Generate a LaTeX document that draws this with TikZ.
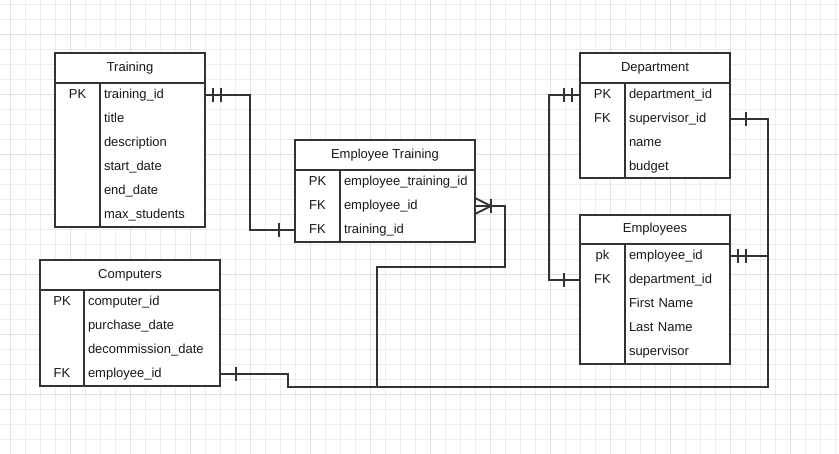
\documentclass[tikz,border=0pt]{standalone}
\usepackage{fontspec}
\setmainfont{Liberation Sans}
\usepackage{tikz}

\begin{document}
\begin{tikzpicture}[x=1pt, y=-1pt,
  every node/.style={font=\fontsize{13}{15}\selectfont, text=black!90, text height=10pt, text depth=3pt},
  tbl/.style={draw=black!80, fill=white, line width=2pt, inner sep=0pt, outer sep=0pt},
  head/.style={tbl, minimum height=30pt},
  key/.style={minimum height=24pt, inner sep=0pt, outer sep=0pt},
  field/.style={minimum height=24pt, inner sep=0pt, inner xsep=4pt, outer sep=0pt, text width=#1, align=left},
  conn/.style={draw=black!80, line width=2pt}]
  \useasboundingbox (0,0) rectangle (839,454);
  \fill[white] (0,0) rectangle (839,454);
  % grid
  \foreach \gx in {0,...,55} \draw[gray!14, line width=1pt] (10.5+15*\gx,0) -- (10.5+15*\gx,454);
  \foreach \gy in {0,...,29} \draw[gray!14, line width=1pt] (0,4.5+15*\gy) -- (839,4.5+15*\gy);
  \foreach \gx in {0,...,13} \draw[gray!24, line width=1pt] (10.5+60*\gx,0) -- (10.5+60*\gx,454);
  \foreach \gy in {0,...,6} \draw[gray!24, line width=1pt] (0,34.5+60*\gy) -- (839,34.5+60*\gy);

  % Training
  \node (train) [head, minimum width=150pt] at (130,68) {Training};
  \node (train-body) [tbl, anchor=north west, minimum width=150pt, minimum height=144pt] at (train.south west) {};
  \node (train-keys) [tbl, anchor=north west, minimum width=45pt, minimum height=144pt] at (train.south west) {};
  \node (train-pk) [key, minimum width=45pt] at (77.5,95) {PK};
  \node (train-id) [field=97pt, anchor=west] at (100,95) {training\_id};
  \node (train-title) [field=97pt, anchor=west] at (100,119) {title};
  \node (train-desc) [field=97pt, anchor=west] at (100,143) {description};
  \node (train-start) [field=97pt, anchor=west] at (100,167) {start\_date};
  \node (train-end) [field=97pt, anchor=west] at (100,191) {end\_date};
  \node (train-max) [field=97pt, anchor=west] at (100,215) {max\_students};

  % Employee Training
  \node (et) [head, minimum width=180pt] at (385,155) {Employee Training};
  \node (et-body) [tbl, anchor=north west, minimum width=180pt, minimum height=72pt] at (et.south west) {};
  \node (et-keys) [tbl, anchor=north west, minimum width=45pt, minimum height=72pt] at (et.south west) {};
  \node (et-pk) [key, minimum width=45pt] at (317.5,182) {PK};
  \node (et-ek) [key, minimum width=45pt] at (317.5,206) {FK};
  \node (et-tk) [key, minimum width=45pt] at (317.5,230) {FK};
  \node (et-id) [field=127pt, anchor=west] at (340,182) {employee\_training\_id};
  \node (et-eid) [field=127pt, anchor=west] at (340,206) {employee\_id};
  \node (et-tid) [field=127pt, anchor=west] at (340,230) {training\_id};

  % Department
  \node (dept) [head, minimum width=150pt] at (655,68) {Department};
  \node (dept-body) [tbl, anchor=north west, minimum width=150pt, minimum height=95pt] at (dept.south west) {};
  \node (dept-keys) [tbl, anchor=north west, minimum width=45pt, minimum height=95pt] at (dept.south west) {};
  \node (dept-pk) [key, minimum width=45pt] at (602.5,95) {PK};
  \node (dept-fk) [key, minimum width=45pt] at (602.5,119) {FK};
  \node (dept-id) [field=97pt, anchor=west] at (625,95) {department\_id};
  \node (dept-sup) [field=97pt, anchor=west] at (625,119) {supervisor\_id};
  \node (dept-name) [field=97pt, anchor=west] at (625,143) {name};
  \node (dept-budget) [field=97pt, anchor=west] at (625,167) {budget};

  % Employees
  \node (emp) [head, minimum width=150pt, minimum height=29pt] at (655,229.5) {Employees};
  \node (emp-body) [tbl, anchor=north west, minimum width=150pt, minimum height=120pt] at (emp.south west) {};
  \node (emp-keys) [tbl, anchor=north west, minimum width=45pt, minimum height=120pt] at (emp.south west) {};
  \node (emp-pk) [key, minimum width=45pt] at (602.5,256) {pk};
  \node (emp-fk) [key, minimum width=45pt] at (602.5,280) {FK};
  \node (emp-id) [field=97pt, anchor=west] at (625,256) {employee\_id};
  \node (emp-dept) [field=97pt, anchor=west] at (625,280) {department\_id};
  \node (emp-first) [field=97pt, anchor=west] at (625,304) {First Name};
  \node (emp-last) [field=97pt, anchor=west] at (625,328) {Last Name};
  \node (emp-sup) [field=97pt, anchor=west] at (625,352) {supervisor};

  % Computers
  \node (comp) [head, minimum width=180pt] at (130,275) {Computers};
  \node (comp-body) [tbl, anchor=north west, minimum width=180pt, minimum height=96pt] at (comp.south west) {};
  \node (comp-keys) [tbl, anchor=north west, minimum width=44pt, minimum height=96pt] at (comp.south west) {};
  \node (comp-pk) [key, minimum width=44pt] at (62,302) {PK};
  \node (comp-fk) [key, minimum width=44pt] at (62,374) {FK};
  \node (comp-id) [field=128pt, anchor=west] at (84,302) {computer\_id};
  \node (comp-buy) [field=128pt, anchor=west] at (84,326) {purchase\_date};
  \node (comp-out) [field=128pt, anchor=west] at (84,350) {decommission\_date};
  \node (comp-eid) [field=128pt, anchor=west] at (84,374) {employee\_id};

  % connectors
  \coordinate (bus-r) at (768,387);
  \coordinate (bus-l) at (288,387);
  \coordinate (bus-m) at (377,387);

  \draw[conn] (train-id.east) -- ++(45,0) |- (et-tk.west);
  \draw[conn] ([xshift=8pt]train-id.east) ++(0,-7) -- ++(0,14);
  \draw[conn] ([xshift=16pt]train-id.east) ++(0,-7) -- ++(0,14);
  \draw[conn] ([xshift=-16pt]et-tk.west) ++(0,-7) -- ++(0,14);

  \draw[conn] (dept-pk.west) -- ++(-31,0) |- (emp-fk.west);
  \draw[conn] ([xshift=-8pt]dept-pk.west) ++(0,-7) -- ++(0,14);
  \draw[conn] ([xshift=-16pt]dept-pk.west) ++(0,-7) -- ++(0,14);
  \draw[conn] ([xshift=-16pt]emp-fk.west) ++(0,-7) -- ++(0,14);

  \draw[conn] (dept-sup.east) -| (bus-r) -- (bus-l) |- (comp-eid.east);
  \draw[conn] ([xshift=16pt]dept-sup.east) ++(0,-7) -- ++(0,14);
  \draw[conn] ([xshift=16pt]comp-eid.east) ++(0,-7) -- ++(0,14);

  \draw[conn] (emp-id.east) -- (emp-id.east -| bus-r);
  \draw[conn] ([xshift=8pt]emp-id.east) ++(0,-7) -- ++(0,14);
  \draw[conn] ([xshift=16pt]emp-id.east) ++(0,-7) -- ++(0,14);

  \draw[conn] (bus-m) -- ++(0,-120) -| ([xshift=30pt]et-eid.east) -- (et-eid.east);
  \draw[conn] ([yshift=8pt]et-eid.east) -- ([xshift=16pt]et-eid.east) -- ([yshift=-8pt]et-eid.east);
  \draw[conn] ([xshift=16pt]et-eid.east) ++(0,-7) -- ++(0,14);
\end{tikzpicture}
\end{document}
